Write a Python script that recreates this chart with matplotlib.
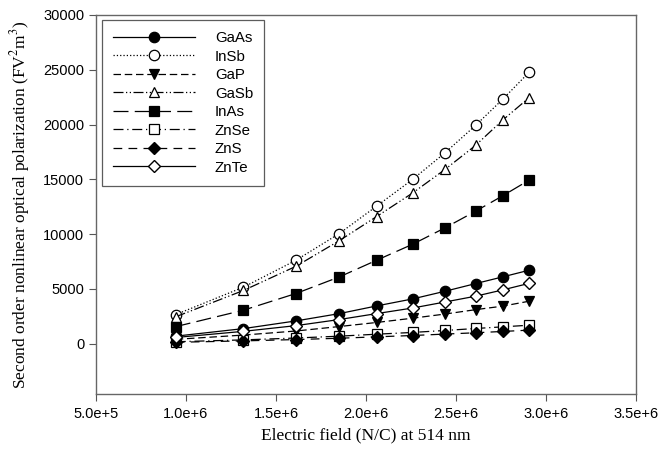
import numpy as np
import matplotlib
matplotlib.use("Agg")
import matplotlib.pyplot as plt
from matplotlib.ticker import FuncFormatter

# electric field values (N/C)
field = [0.943e6, 1.319e6, 1.610e6, 1.852e6, 2.059e6, 2.259e6, 2.439e6, 2.609e6, 2.759e6, 2.906e6]

gaas = [680, 1370, 2070, 2740, 3440, 4080, 4780, 5480, 6090, 6700]
insb = [2650, 5150, 7600, 10050, 12550, 14990, 17420, 19925, 22300, 24770]
gap = [390, 780, 1150, 1560, 1930, 2320, 2700, 3100, 3420, 3870]
gasb = [2450, 4850, 7050, 9400, 11600, 13750, 15900, 18100, 20400, 22450]
inas = [1550, 3050, 4570, 6090, 7610, 9070, 10570, 12090, 13490, 14925]
znse = [170, 340, 510, 680, 860, 1020, 1200, 1380, 1530, 1680]
zns = [120, 250, 370, 490, 620, 740, 870, 990, 1110, 1230]
znte = [560, 1120, 1640, 2200, 2740, 3250, 3800, 4330, 4900, 5500]

plt.rcParams['mathtext.fontset'] = 'stix'
sans = ['Liberation Sans', 'DejaVu Sans']
serif = ['Liberation Serif', 'DejaVu Serif']

fig = plt.figure(figsize=(6.6, 4.57), dpi=100)
ax = fig.add_axes([96/660, 1-394/457, 540/660, 379/457])

ms = 7.5
lw = 0.9
kw = dict(color='black', lw=lw, ms=ms, mec='black', mew=0.9)
ax.plot(field, gaas, '-', marker='o', mfc='black', label='GaAs', **kw)
ax.plot(field, insb, ':', marker='o', mfc='white', label='InSb', **kw)
ax.plot(field, gap, linestyle=(0, (6, 3)), marker='v', mfc='black', label='GaP', **kw)
ax.plot(field, gasb, linestyle=(0, (8, 2, 1, 2, 1, 2)), marker='^', mfc='white', label='GaSb', **kw)
ax.plot(field, inas, linestyle=(0, (12, 5)), marker='s', mfc='black', label='InAs', **kw)
ax.plot(field, znse, linestyle=(0, (8, 3, 1, 3)), marker='s', mfc='white', label='ZnSe', **kw)
ax.plot(field, zns, linestyle=(0, (7, 5)), marker='D', mfc='black', ms=6.5, color='black', lw=lw, mec='black', label='ZnS')
ax.plot(field, znte, '-', marker='D', mfc='white', ms=6.5, color='black', lw=lw, mec='black', label='ZnTe')

ax.set_xlim(5e5, 3.5e6)
ax.set_ylim(-4600, 30000)
ax.set_xticks(np.arange(5e5, 3.51e6, 5e5))
ax.set_yticks(np.arange(0, 30001, 5000))

def sci(v, pos):
    e = int(np.floor(np.log10(v)))
    return f"{v/10**e:.1f}e+{e}"

ax.xaxis.set_major_formatter(FuncFormatter(sci))
ax.tick_params(direction='out', length=5, width=0.8, color='#555555', labelsize=10.5)
for lab in ax.get_xticklabels() + ax.get_yticklabels():
    lab.set_family(sans)
ax.tick_params(axis='x', pad=4)
for s in ax.spines.values():
    s.set_color('#666666')
    s.set_linewidth(1.0)

ax.set_xlabel('Electric field (N/C) at 514 nm', family=serif, fontsize=12.5, labelpad=5)
ax.set_ylabel('Second order nonlinear optical polarization (FV$^2$m$^3$)', family=serif, fontsize=12.5, labelpad=8)

leg = ax.legend(loc='upper left', bbox_to_anchor=(0.005, 0.995), handlelength=5.5, numpoints=1,
                prop={'family': sans, 'size': 10.8}, frameon=True, fancybox=False,
                borderpad=0.75, labelspacing=0.3, handletextpad=1.3, borderaxespad=0.2)
leg.get_frame().set_edgecolor('#333333')
leg.get_frame().set_linewidth(0.9)

fig.savefig('out.png', dpi=100)
